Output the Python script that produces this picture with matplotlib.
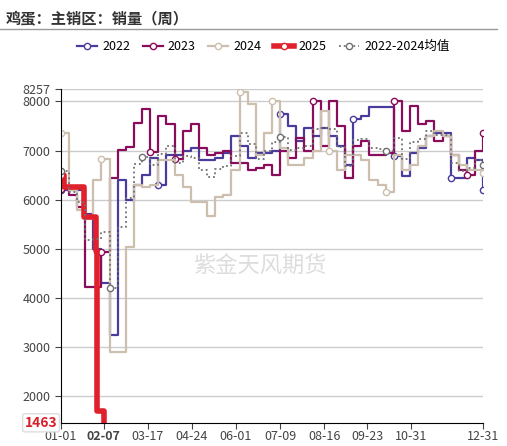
import numpy as np
import matplotlib.pyplot as plt

plt.rcParams['font.family'] = ['Noto Sans CJK SC', 'DejaVu Sans']

# weekly values, week i starts on day 7*i
v2022 = [6200, 6200, 6200, 5700, 5000, 4300, 3250, 6400, 6000, 6300, 6500, 6850, 6300, 6900,
         6900, 7000, 7050, 6800, 6800, 6850, 6950, 7300, 7100, 6850, 6950, 6950, 7000, 7750,
         7500, 7200, 7450, 7300, 7450, 7300, 7100, 6700, 7650, 7700, 7880, 7880, 7880, 6880,
         6480, 6950, 7050, 7300, 7350, 7350, 6450, 6450, 6850, 6800, 6200]
v2023 = [6210, 6100, 5850, 4220, 4220, 4930, 6450, 7020, 7080, 7570, 7840, 6980, 7700, 7550,
         6820, 7400, 7550, 7050, 6900, 6950, 7000, 6750, 6750, 6600, 6650, 6700, 6500, 7000,
         6850, 7250, 7000, 8000, 7100, 8000, 7500, 6450, 7100, 7200, 6900, 6900, 6950, 8000,
         7400, 7900, 7550, 7600, 7200, 7300, 6900, 6600, 6500, 7000, 7350]
v2024 = [7350, 6200, 5800, 5600, 6400, 6820, 2900, 2900, 5030, 6300, 6250, 6300, 6800, 6800,
         6500, 6250, 5950, 5950, 5660, 6050, 6100, 6600, 8200, 7950, 6900, 7350, 8000, 7050,
         6700, 6700, 6850, 7000, 7800, 7000, 6600, 6900, 6900, 6800, 6400, 6300, 6150, 6900,
         6600, 6700, 7100, 7300, 7400, 7300, 6900, 6700, 6600, 6600, 6550]
d2025 = [0, 3, 17, 20, 27, 30, 31, 36, 37]
v2025 = [6500, 6250, 6250, 5650, 5650, 4950, 1700, 1700, 1463]

weeks = np.arange(len(v2022)) * 7
avg = (np.array(v2022) + np.array(v2023) + np.array(v2024)) / 3

tick_days = [0, 37, 75, 113, 151, 189, 227, 264, 302, 364]
tick_labels = ['01-01', '02-07', '03-17', '04-24', '06-01', '07-09', '08-16', '09-23', '10-31', '12-31']

fig = plt.figure(figsize=[5.07, 4.46], dpi=100)
ax = fig.add_axes([0.12, 0.052, 0.833, 0.749])

mk = dict(marker='o', markersize=4.5, markerfacecolor='white', markeredgewidth=1)
ax.step(weeks, v2022, where='post', color='#4a3c9c', lw=1.6, markevery=[0, 12, 27, 36, 41, 48, 52], **mk, label='2022')
ax.step(weeks, v2023, where='post', color='#8a0c5c', lw=1.6, markevery=[0, 5, 11, 14, 31, 41, 50, 52], **mk, label='2023')
ax.step(weeks, v2024, where='post', color='#cdbfae', lw=1.6, markevery=[0, 5, 22, 26, 33, 40, 52], **mk, label='2024')
ax.step(d2025, v2025, where='post', color='#e0202a', lw=4, label='2025',
        marker='o', markersize=4.5, markerfacecolor='white', markevery=[0])
ax.step(weeks, avg, where='post', color='#707070', lw=1.3, ls=':', markevery=[0, 6, 10, 27, 40, 52],
        marker='o', markersize=4.5, markerfacecolor='white', label='2022-2024均值')

ax.set_xlim(0, 364)
ax.set_ylim(1463, 8257)
ax.set_yticks([2000, 3000, 4000, 5000, 6000, 7000, 8000, 8257])
ax.set_xticks(tick_days)
ax.set_xticklabels(tick_labels)
for t in ax.get_xticklabels():
    if t.get_text() == '02-07':
        t.set_color('#d7202a')
        t.set_fontweight('bold')
        t.set_fontsize(10)
ax.tick_params(labelsize=9, colors='#444444', length=4)
ax.tick_params(axis='x', pad=1)
ax.grid(axis='y', color='#cccccc', lw=1)
ax.set_axisbelow(True)
for s in ['top', 'right']:
    ax.spines[s].set_visible(False)
ax.text(-3, 1463, '1463', color='#d7202a', fontweight='bold', fontsize=10, ha='right', va='center',
        bbox=dict(facecolor='white', edgecolor='#dddddd', boxstyle='round,pad=0.15'))

ax.text(0.47, 0.47, '紫金天风期货', transform=ax.transAxes, fontsize=16, color='#dddddd', ha='center', va='center')

fig.text(0.012, 0.975, '鸡蛋：主销区：销量（周）', fontsize=11, fontweight='bold', color='#333333', va='top')
fig.add_artist(plt.Line2D([0, 0.98], [0.935, 0.935], color='#999999', lw=1))
fig.legend(loc='upper center', bbox_to_anchor=(0.52, 0.935), ncol=5, frameon=False, fontsize=9,
           handlelength=1.6, columnspacing=1.0, handletextpad=0.4)

fig.savefig('out.png', dpi=100)
